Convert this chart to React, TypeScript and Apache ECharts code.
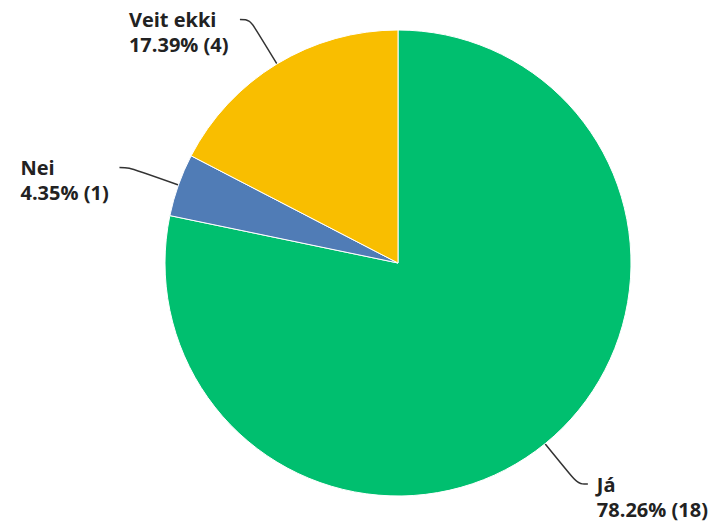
import React, { useEffect, useRef } from "react";
import * as echarts from "echarts";

const categories = ["Já", "Nei", "Veit ekki"];
const counts = [18, 1, 4];
const colors = ["#00BF6F", "#507CB6", "#F9BE00"];
const labelWidths = [0, 90, 102];

export default function App() {
  const ref = useRef<HTMLDivElement>(null);
  useEffect(() => {
    if (!ref.current) return;
    const chart = echarts.init(ref.current, undefined, { renderer: "svg" });
    const baseText = {
      fontFamily: "Open Sans",
      fontWeight: "bold" as const,
      fontSize: 20,
      lineHeight: 25,
      color: "#222",
    };
    chart.setOption({
      animation: false,
      series: [
        {
          type: "pie",
          center: [398, 263],
          radius: 233,
          startAngle: 90,
          clockwise: true,
          percentPrecision: 2,
          avoidLabelOverlap: false,
          itemStyle: { borderColor: "#fff", borderWidth: 1 },
          labelLine: {
            show: true,
            length: 52,
            length2: 10,
            smooth: 0.4,
            lineStyle: { color: "#333", width: 1.5 },
          },
          label: {
            show: true,
            position: "outside",
            distanceToLabelLine: 9,
            padding: [25, 0, 0, 0],
            ...baseText,
          },
          data: categories.map((name, i) => ({
            name,
            value: counts[i],
            itemStyle: { color: colors[i] },
            label: {
              formatter: "{a|{b}}\n{a|{d}% ({c})}",
              rich: {
                a: {
                  ...baseText,
                  width: labelWidths[i] || undefined,
                  align: "left",
                },
              },
            },
          })),
        },
      ],
    });
    return () => chart.dispose();
  }, []);
  return (
    <div
      ref={ref}
      style={{ position: "fixed", left: 0, top: 0, width: 723, height: 523, background: "#fff" }}
    />
  );
}
